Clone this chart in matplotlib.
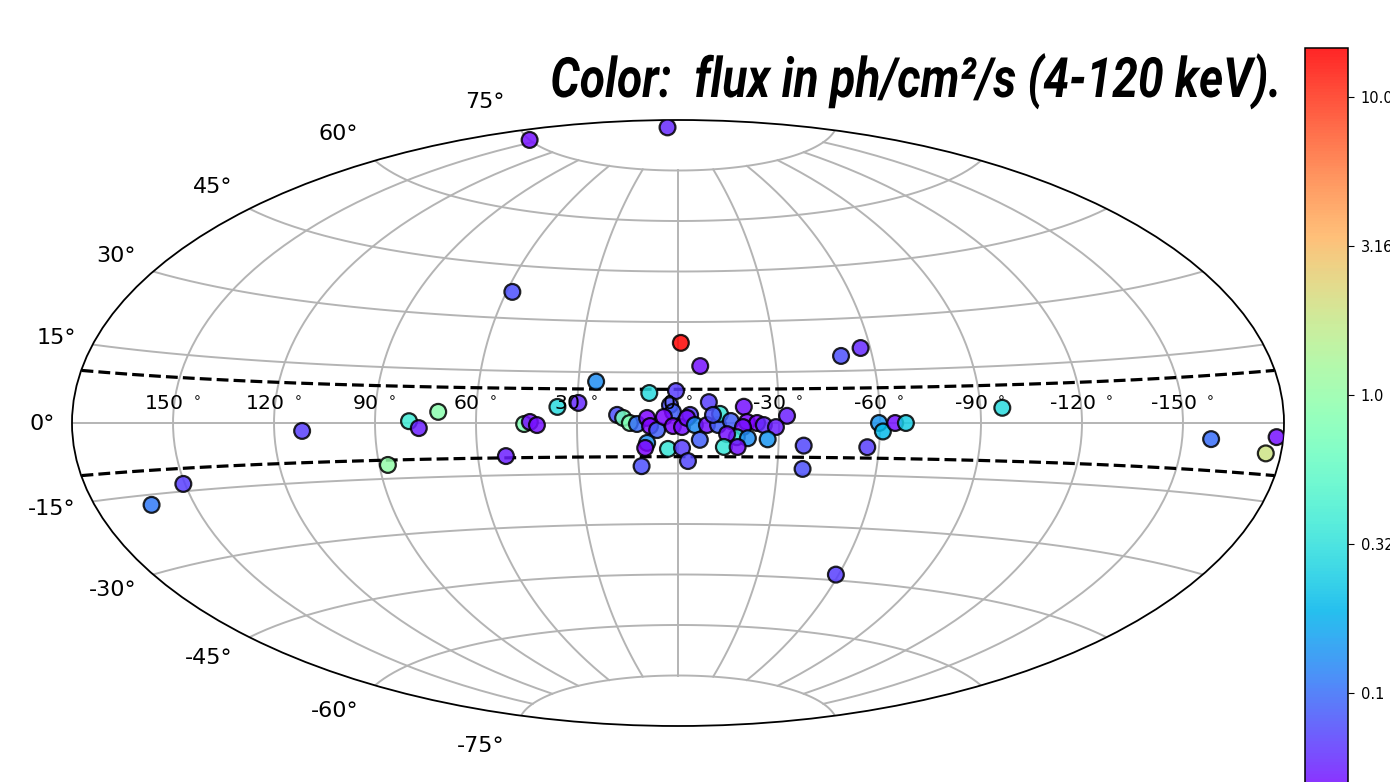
import numpy as np
import matplotlib
matplotlib.use("Agg")
import matplotlib.pyplot as plt
from matplotlib.colors import LogNorm
from matplotlib.patheffects import AbstractPathEffect
from matplotlib.transforms import Affine2D

# galactic longitude (deg, positive to the left), latitude (deg), flux
lon = [50, 156, 58, -0.9, -6.8, 24.7, 8.6, 0.6, -50.4, -57, -96.5, -158.6, -178, -175.5,
       163, 150.5, 111.7, 87.4, 71.3, 79.9, 77, 51.6, 45.7, 44, 41.9, 35.9, 29.7, 18.1,
       -37.5, -37.7, -56.5, -59, -32.4, -59.7, -60.9, -64.5, -67.7,
       16.3, 14.3, 12.2, 9.2, 8.3, 6.2, 2.4, 1.5, 4.2, 1.5, -1.2, -3.6, -2.7, -5, -8.6,
       -11.9, -9.2, -12.5, -10.4, -15.7, -19.6, -20.5, -23.5, -19.3, -25.5, -29.1,
       -17.5, -14.6, -20.8, -26.7, -6.5, -13.7, -17.8, 9.2, 9.8, 3, -1.2, -3, 11]
lat = [87.6, 75, 37.5, 23.8, 16.9, 12.2, 8.9, 9.5, 19.3, 21.4, 4, -3.4, -2.7, -5.9,
       -17.1, -13.4, -2, -11.3, 3.1, 0.5, -1.4, -9.5, -0.3, 0.3, -0.6, 4.7, 5.9, 2.4,
       -6.6, -13.4, -6.9, -43.4, 2.1, 0, -2.4, 0, 0,
       1.5, 0, -0.3, 1.5, -0.9, -2.1, 5.3, 3.3, 1.8, -0.9, -1.2, 2.4, 1.5, -0.6, -0.6,
       -0.6, 6.2, 2.7, 2.4, 0.6, 4.8, 0.3, 0, -1.2, -0.6, -1.2,
       -4.2, -3.3, -4.5, -4.8, -5, -7.1, -7.1, -5.9, -7.4, -7.7, -7.4, -11.3, -12.8]
flux = [0.06, 0.05, 0.08, 14, 0.05, 0.13, 0.3, 0.07, 0.08, 0.06, 0.3, 0.1, 0.05, 1.9,
        0.11, 0.07, 0.07, 1.0, 0.9, 0.38, 0.055, 0.055, 0.8, 0.05, 0.05, 0.3, 0.06, 0.08,
        0.075, 0.08, 0.07, 0.07, 0.055, 0.14, 0.2, 0.05, 0.25,
        0.7, 0.8, 0.1, 0.045, 0.045, 0.09, 0.08, 0.09, 0.045, 0.045, 0.05, 0.07, 0.05, 0.13, 0.05,
        0.09, 0.07, 0.35, 0.08, 0.09, 0.05, 0.045, 0.045, 0.05, 0.06, 0.055,
        0.35, 0.05, 0.13, 0.14, 0.09, 0.35, 0.05, 0.13, 0.045, 0.35, 0.07, 0.075, 0.08]

band_lat = [10, -10]
lon_ticks = [150, 120, 90, 60, 30, 0, -30, -60, -90, -120, -150]
lat_ticks = [75, 60, 45, 30, 15, 0, -15, -30, -45, -60, -75]
lat_shift = [28, 27, 22, 15, 7, -1, -8, -15, -21, -26, -30]
cbar_ticks = [0.1, 0.316, 1.0, 3.16, 10.0]
cbar_labels = ["0.1", "0.32", "1.0", "3.16", "10.0"]


# no condensed font installed, so squeeze the title sideways around its right end
class Squeeze(AbstractPathEffect):
    def __init__(self, x0, f):
        self.x0 = x0
        self.f = f

    def draw_path(self, renderer, gc, tpath, affine, rgbFace=None):
        sq = Affine2D().translate(-self.x0, 0).scale(self.f, 1).translate(self.x0, 0)
        renderer.draw_path(gc, tpath, affine + sq, rgbFace)


W, H = 1390, 782
fig = plt.figure(figsize=(W / 100, H / 100), dpi=100)
ax = fig.add_axes([72 / W, (H - 726) / H, 1212 / W, 606 / H], projection="aitoff")
ax.grid(True, color="#b4b4b4", lw=1.4)
ax.set_xticklabels([])
ax.set_yticklabels([])
for s in ax.spines.values():
    s.set_linewidth(1.3)

band_x = np.radians(np.linspace(-179.9, 179.9, 300))
for b in band_lat:
    ax.plot(band_x, np.full(300, np.radians(b)), color="k", ls="--", lw=2.3, zorder=2)

norm = LogNorm(vmin=0.0437, vmax=14.6)
sc = ax.scatter(-np.radians(lon), np.radians(lat), c=flux, s=130, cmap="rainbow", norm=norm,
                alpha=0.85, edgecolors="k", linewidths=1.6, zorder=3)

for t in lon_ticks:
    ax.annotate(f"{t} $^\\circ$", (-np.radians(t), 0), xytext=(-1, 13), textcoords="offset pixels",
                ha="center", va="baseline", fontsize=14.6, zorder=5, annotation_clip=False)
for t, dy in zip(lat_ticks, lat_shift):
    ax.annotate(f"{t}\N{DEGREE SIGN}", (-np.pi, np.radians(t)), xytext=(-17, dy), textcoords="offset pixels",
                ha="right", va="center", fontsize=16, annotation_clip=False)

cax = fig.add_axes([1305 / W, (H - 800) / H, 43 / W, 752 / H])
cb = fig.colorbar(sc, cax=cax)
cb.set_ticks(cbar_ticks)
cb.set_ticklabels(cbar_labels)
cb.minorticks_off()
cb.outline.set_linewidth(1.1)
cax.tick_params(labelsize=10.5, length=4.3, pad=5)

ttl = fig.text(1280 / W, (H - 97) / H, "Color:  flux in ph/cm\u00b2/s (4-120 keV).", ha="right", va="baseline",
               fontsize=40, fontweight="bold", fontstyle="italic", family=["Roboto", "DejaVu Sans"])
ttl.set_path_effects([Squeeze(1280, 0.832)])

fig.savefig("out.png", dpi=100)
